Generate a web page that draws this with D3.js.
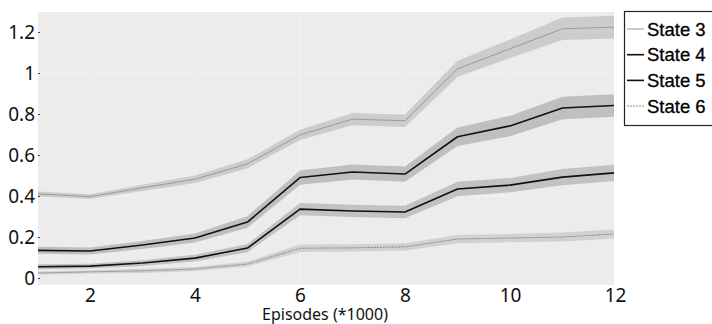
<!DOCTYPE html>
<html>
<head>
<meta charset="utf-8">
<script src="https://cdn.jsdelivr.net/npm/d3@7"></script>
<style>
  html, body { margin: 0; padding: 0; background: #fff; }
  svg { display: block; }
</style>
</head>
<body>
<svg id="chart" width="712" height="324"></svg>
<script>
// Episodes (thousands)
const episodes = [1, 2, 3, 4, 5, 6, 7, 8, 9, 10, 11, 12];

// Mean curves per state
const state3 = [0.41, 0.397, 0.44, 0.482, 0.557, 0.698, 0.775, 0.767, 1.02, 1.118, 1.216, 1.224];
const state4 = [0.135, 0.132, 0.161, 0.195, 0.273, 0.49, 0.517, 0.507, 0.689, 0.742, 0.829, 0.842];
const state5 = [0.055, 0.058, 0.073, 0.097, 0.146, 0.336, 0.327, 0.322, 0.434, 0.453, 0.492, 0.513];
const state6 = [0.024, 0.03, 0.035, 0.044, 0.068, 0.145, 0.147, 0.152, 0.19, 0.195, 0.2, 0.215];

// Half-width of the shaded spread around each curve
const spread3 = [0.012, 0.012, 0.015, 0.018, 0.022, 0.025, 0.03, 0.03, 0.04, 0.045, 0.055, 0.055];
const spread4 = [0.017, 0.017, 0.02, 0.022, 0.028, 0.035, 0.037, 0.037, 0.045, 0.05, 0.055, 0.055];
const spread5 = [0.012, 0.012, 0.014, 0.016, 0.02, 0.03, 0.03, 0.03, 0.035, 0.035, 0.04, 0.04];
const spread6 = [0.008, 0.008, 0.01, 0.01, 0.012, 0.018, 0.018, 0.018, 0.02, 0.02, 0.022, 0.022];

const seriesNames = ["State 3", "State 4", "State 5", "State 6"];
const xTicks = [2, 4, 6, 8, 10, 12];
const yTicks = [0, 0.2, 0.4, 0.6, 0.8, 1, 1.2];
const xLabel = "Episodes (*1000)";

const series = [
  { name: seriesNames[0], mean: state3, spread: spread3, stroke: "#9a9a9a", width: 1, dash: null, band: "#b8b8b8", bandOpacity: 0.6 },
  { name: seriesNames[1], mean: state4, spread: spread4, stroke: "#111", width: 1.6, dash: null, band: "#a2a2a2", bandOpacity: 0.6 },
  { name: seriesNames[2], mean: state5, spread: spread5, stroke: "#111", width: 1.6, dash: null, band: "#a6a6a6", bandOpacity: 0.6 },
  { name: seriesNames[3], mean: state6, spread: spread6, stroke: "#8a8a8a", width: 1, dash: "2,1", band: "#c0c0c0", bandOpacity: 0.6 }
];

const svg = d3.select("#chart");
const plot = { left: 38, right: 614, top: 12, bottom: 285 };

const x = d3.scaleLinear().domain([1, 12]).range([37.5, 615]);
const y = d3.scaleLinear().domain([0, 1.2]).range([278, 32]);

// plot background
svg.append("rect")
  .attr("x", plot.left).attr("y", plot.top)
  .attr("width", plot.right - plot.left).attr("height", plot.bottom - plot.top)
  .attr("fill", "#ececec");

// very faint grid
const grid = svg.append("g").attr("stroke", "#f2f2f2").attr("stroke-width", 1);
grid.selectAll("line.v").data(xTicks.slice(0, -1)).join("line")
  .attr("x1", d => x(d)).attr("x2", d => x(d))
  .attr("y1", plot.top).attr("y2", plot.bottom);
grid.selectAll("line.h").data(yTicks.slice(1)).join("line")
  .attr("x1", plot.left).attr("x2", plot.right)
  .attr("y1", d => y(d)).attr("y2", d => y(d));

svg.append("clipPath").attr("id", "plotclip")
  .append("rect")
  .attr("x", plot.left).attr("y", plot.top)
  .attr("width", plot.right - plot.left).attr("height", plot.bottom - plot.top);

const marks = svg.append("g").attr("clip-path", "url(#plotclip)");

const curve = d3.curveLinear;
const area = d3.area()
  .x((d, i) => x(episodes[i]))
  .y0(d => y(d[0] - d[1]))
  .y1(d => y(d[0] + d[1]))
  .curve(curve);
const line = d3.line()
  .x((d, i) => x(episodes[i]))
  .y(d => y(d))
  .curve(curve);

series.forEach(s => {
  marks.append("path")
    .datum(s.mean.map((m, i) => [m, s.spread[i]]))
    .attr("d", area)
    .attr("fill", s.band)
    .attr("fill-opacity", s.bandOpacity);
});
series.forEach(s => {
  marks.append("path")
    .datum(s.mean)
    .attr("d", line)
    .attr("fill", "none")
    .attr("stroke", s.stroke)
    .attr("stroke-width", s.width)
    .attr("stroke-linejoin", "round")
    .attr("stroke-dasharray", s.dash);
});

// axes
const font = "'Noto Sans', 'Open Sans', sans-serif";
const yAxis = svg.append("g")
  .attr("transform", `translate(${plot.left},0)`)
  .call(d3.axisLeft(y).tickValues(yTicks).tickSize(-2).tickPadding(3).tickFormat(d3.format("~g")));
yAxis.select(".domain").remove();
yAxis.selectAll(".tick line").attr("stroke", "#444");
yAxis.selectAll(".tick text")
  .attr("font-family", font).attr("font-size", 19).attr("fill", "#111")
  .attr("dy", "0.36em");

const xAxis = svg.append("g")
  .attr("transform", `translate(0,${plot.bottom})`)
  .call(d3.axisBottom(x).tickValues(xTicks).tickSize(0).tickPadding(3));
xAxis.select(".domain").remove();
xAxis.selectAll(".tick text")
  .attr("font-family", font).attr("font-size", 19).attr("fill", "#111");

svg.append("text")
  .attr("x", 325).attr("y", 320)
  .attr("text-anchor", "middle")
  .attr("font-family", font).attr("font-size", 16).attr("fill", "#111")
  .text(xLabel);

// legend
const legend = svg.append("g");
legend.append("rect")
  .attr("x", 624.5).attr("y", 11.5)
  .attr("width", 100).attr("height", 114)
  .attr("fill", "#fff").attr("stroke", "#222").attr("stroke-width", 1.2);
const rows = legend.selectAll("g.row").data(series).join("g")
  .attr("transform", (d, i) => `translate(0,${29 + i * 25.7})`);
rows.append("line")
  .attr("x1", 627).attr("x2", 644)
  .attr("stroke", d => d.name === "State 3" ? "#999" : d.stroke)
  .attr("stroke-width", d => d.width)
  .attr("stroke-dasharray", d => d.dash);
rows.append("text")
  .attr("x", 647).attr("dy", "0.36em")
  .attr("font-family", "'Liberation Sans', Arial, sans-serif")
  .attr("font-size", 18.5).attr("fill", "#000")
  .attr("stroke", "#000").attr("stroke-width", 0.3)
  .text(d => d.name);
</script>
</body>
</html>
